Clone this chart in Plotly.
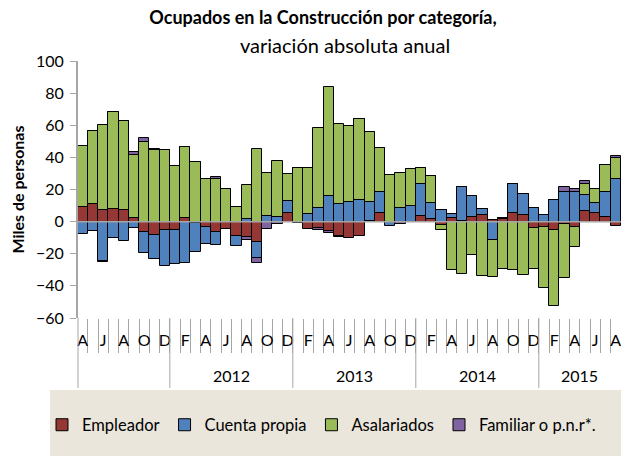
import plotly.graph_objects as go

# Monthly series, April 2011 -> August 2015 (53 months), thousands of persons
empleador = [9, 11, 7.2, 7.8, 7.2, 2.3, -6.2, -8.3, -5.2, -5,
             2.3, -0.8, -3.1, -6.2, -4.5, -8.7, -9.3, -12.4, 0, 0,
             5.4, -0.8, -4.5, -4.1, -6, -8.7, -10.1, -8.9, 0.6, 5.4,
             -0.5, 0, 0, 3.7, 1.7, -2.1, 2.3, 0.5, 2.7, 4.1,
             1, 1.7, 5.4, 4.1, -3.9, -3.1, -5.2, -1.4, -3.5, 6.8,
             5.2, 3.1, -2.9]
cuenta_propia = [-7.6, -6, -24.2, -10.3, -11.8, -3.9, -13.2, -15.2, -22.5, -21.2,
                 -25.6, -17.8, -10.7, -8.2, 0, -6.2, 1.7, -10.1, 3.7, 3,
                 7.6, 0, 4.7, 8.5, 15.9, 10.9, 12.2, 13.4, 11.6, 13,
                 -2, 8.5, 9.7, 19.6, 9.9, 7.2, 2.5, 21, 13.4, 3.7,
                 -11.4, 0.5, 18, 13, 8.5, 4.1, 13.4, 18.2, 18.2, 9.7,
                 6.2, 15.1, 26.4]
asalariados = [38, 45.2, 52.8, 60.5, 55.3, 39, 49.3, 44.4, 44.6, 34.7,
               44.3, 37.2, 26.8, 26.8, 20.2, 8.9, 21, 45, 26.5, 34.8,
               16.5, 33.6, 28.9, 49.5, 67.7, 49.6, 47.1, 50.2, 43.5, 27.6,
               28.9, 21.7, 22.9, 9.9, 17.1, -2.9, -29.9, -32.8, -21, -33.8,
               -23.1, -29.3, -30.3, -33, -25.8, -38, -47.3, -34, -12.4, 6.8,
               8.9, 16.9, 13]
familiar = [0, 0, -1, 0, 0, 2.2, 2.5, 1, 0, 0,
            0, 0, 0, 1, 0, 0, -1.9, -3.1, -4.5, -1.5,
            0, 0, 0, -1, -1, -1, 0, 0, 0, 0,
            0, -1.4, 0, 0, 0, 0, 0, 0, 0, 0,
            0, 0, 0, 0, 0, 0, 0, 3.1, 2.1, 2.1,
            0, 0, 1.2]

month_cycle = ["A", "M", "J", "J", "A", "S", "O", "N", "D", "E", "F", "M"]  # starting April
n = len(empleador)
x = list(range(n))
month_letters = [month_cycle[i % 12] for i in range(n)]
tick_idx = x[::2]
tick_text = [month_letters[i] for i in tick_idx]

years = ["2012", "2013", "2014", "2015"]
year_first_idx = [9, 21, 33, 45]
year_last_idx = [20, 32, 44, 52]

colors = {"Empleador": "#953735", "Cuenta propia": "#4F81BD",
          "Asalariados": "#9BBB59", "Familiar o p.n.r*.": "#8064A2"}
series = [("Empleador", empleador), ("Cuenta propia", cuenta_propia),
          ("Asalariados", asalariados), ("Familiar o p.n.r*.", familiar)]

FONT = "Lato"
fig = go.Figure()
for name, vals in series:
    fig.add_trace(go.Bar(x=x, y=vals, name=name,
                         marker=dict(color=colors[name], line=dict(color="black", width=1))))

L, R, T, B = 78, 0, 61, 138
W, H = 621, 456
pw = W - L - R
ph = H - T - B

def px_x(p):
    return (p - L) / pw

def px_y(p):
    return (H - B - p) / ph

shapes = []
# legend background box
shapes.append(dict(type="rect", xref="paper", yref="paper", x0=px_x(50), x1=1.01,
                   y0=px_y(390), y1=px_y(457), fillcolor="#EAE6DC", line=dict(width=0),
                   layer="below"))
# zero line
shapes.append(dict(type="line", xref="paper", yref="y", x0=0, x1=1, y0=0, y1=0,
                   line=dict(color="#A6A6A6", width=1.5), layer="above"))
# year separators
shapes.append(dict(type="line", xref="paper", yref="paper", x0=0, x1=0,
                   y0=0, y1=px_y(388), line=dict(color="#A6A6A6", width=1)))
for fi in year_first_idx:
    shapes.append(dict(type="line", xref="x", yref="paper", x0=fi - 0.5, x1=fi - 0.5,
                       y0=0, y1=px_y(388), line=dict(color="#A6A6A6", width=1)))

annotations = []
for yr, a, b in zip(years, year_first_idx, year_last_idx):
    annotations.append(dict(x=(a + b) / 2, y=px_y(375), xref="x", yref="paper",
                            text=yr, showarrow=False, yanchor="middle",
                            font=dict(family=FONT, size=16, color="black")))
annotations.append(dict(x=px_x(345), y=px_y(45), xref="paper", yref="paper",
                        text="variación absoluta anual", showarrow=False,
                        yanchor="middle", font=dict(family=FONT, size=20, color="black")))
annotations.append(dict(x=px_x(17), y=0.5, xref="paper", yref="paper",
                        text="<b>Miles de personas</b>", showarrow=False, textangle=-90,
                        xanchor="center", yanchor="middle",
                        font=dict(family=FONT, size=16, color="black")))

fig.update_layout(
    width=W, height=H,
    margin=dict(l=L, r=R, t=T, b=B, autoexpand=False),
    paper_bgcolor="white", plot_bgcolor="white",
    barmode="relative", bargap=0,
    title=dict(text="<b>Ocupados en la Construcción por categoría,</b>",
               x=323 / W, xref="container", xanchor="center",
               y=1 - 18 / H, yref="container", yanchor="middle",
               font=dict(family=FONT, size=18, color="black")),
    font=dict(family=FONT, color="black"),
    showlegend=True,
    legend=dict(orientation="h", x=px_x(42), xanchor="left", y=px_y(425), yanchor="middle",
                bgcolor="rgba(0,0,0,0)", font=dict(family=FONT, size=16.5, color="black"),
                itemwidth=30),
    shapes=shapes,
    annotations=annotations,
    xaxis=dict(range=[-0.46, 52.52], tickmode="array", tickvals=tick_idx, ticktext=tick_text,
               ticks="outside", ticklen=8, tickcolor="rgba(0,0,0,0)", automargin=False,
               ticklabeloverflow="allow",
               tickfont=dict(family=FONT, size=16, color="black"),
               minor=dict(tickvals=[i - 0.5 for i in range(1, n)], ticks="outside",
                          ticklen=34, tickcolor="#A6A6A6", tickwidth=1),
               showline=False, showgrid=False, zeroline=False),
    yaxis=dict(range=[-60, 100], tickmode="array", tickvals=list(range(-60, 101, 20)),
               ticks="outside", ticklen=6, tickcolor="#A6A6A6", tickwidth=1,
               showline=True, linecolor="#A6A6A6", linewidth=2, automargin=False,
               showgrid=False, zeroline=False, ticklabelstandoff=3,
               tickfont=dict(family=FONT, size=16, color="black")),
)

fig.write_html("out.html", config={"displayModeBar": False},
               post_script="document.body.style.margin='0';document.body.style.padding='0';")
